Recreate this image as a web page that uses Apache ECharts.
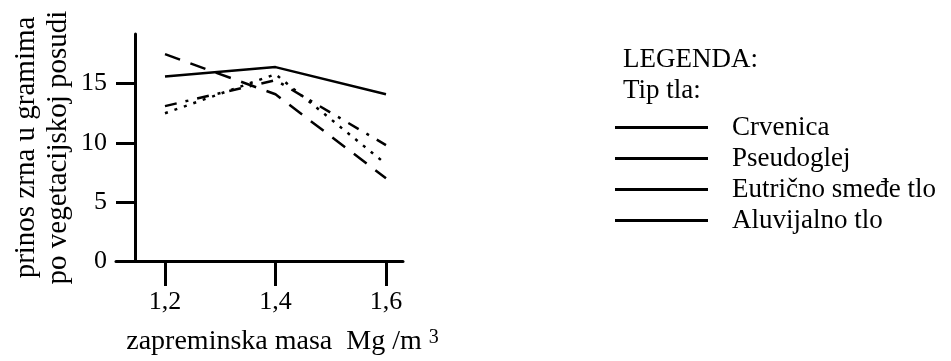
<!DOCTYPE html>
<html>
<head>
<meta charset="utf-8">
<script src="https://cdn.jsdelivr.net/npm/echarts@6/dist/echarts.min.js"></script>
<style>
  html, body { margin: 0; padding: 0; background: #fff; }
  #chart { width: 951px; height: 361px; }
</style>
</head>
<body>
<div id="chart"></div>
<script>
// ---- data ----
const xValues = [1.2, 1.4, 1.6];
const seriesNames = ['Crvenica', 'Pseudoglej', 'Eutrično smeđe tlo', 'Aluvijalno tlo'];
const crvenica = [15.6, 16.4, 14.1];
const pseudoglej = [17.5, 14.1, 7.0];
const eutricno = [13.1, 15.3, 9.8];
const aluvijalno = [12.5, 15.8, 8.2];
const yTicks = [0, 5, 10, 15];
const xTicks = [1.2, 1.4, 1.6];
const yAxisName = 'prinos zrna u gramima\npo vegetacijskoj posudi';
const xAxisName = 'zapreminska masa  Mg /m ';
const xAxisSup = '3';
const legendTitle = 'LEGENDA:';
const legendSubtitle = 'Tip tla:';

const FONT = 'Liberation Serif, Times New Roman, serif';
const INK = '#000';

const seriesValues = [crvenica, pseudoglej, eutricno, aluvijalno];
const dashTypes = ['solid', [16, 11], [12, 9, 3, 9], [3, 7]];

const chart = echarts.init(document.getElementById('chart'), null, { renderer: 'canvas' });

chart.setOption({
  animation: false,
  backgroundColor: '#fff',
  title: [
    { text: legendTitle, left: 623, top: 46, padding: 0,
      textStyle: { fontFamily: FONT, fontSize: 27, fontWeight: 'normal', color: INK, lineHeight: 27 } },
    { text: legendSubtitle, left: 623, top: 77, padding: 0,
      textStyle: { fontFamily: FONT, fontSize: 27, fontWeight: 'normal', color: INK, lineHeight: 27 } }
  ],
  legend: {
    orient: 'vertical',
    left: 615,
    top: 112,
    padding: 0,
    itemGap: 0,
    itemWidth: 93,
    itemHeight: 3,
    icon: 'path://M0,0H100V3H0Z',
    itemStyle: { color: INK, borderWidth: 0 },
    data: seriesNames,
    selectedMode: false,
    textStyle: { fontFamily: FONT, fontSize: 27, color: INK, lineHeight: 24, padding: [0, 0, 7, 19] }
  },
  grid: { left: 116, right: 548, top: 34, bottom: 98, containLabel: false },
  xAxis: {
    type: 'value',
    min: 1.1113,
    max: 1.6308,
    name: '{a|' + xAxisName + '}{s|' + xAxisSup + '}',
    nameLocation: 'middle',
    nameGap: 67,
    nameTextStyle: {
      padding: [0, 0, 0, 46],
      rich: {
        a: { fontFamily: FONT, fontSize: 28, color: INK, lineHeight: 28 },
        s: { fontFamily: FONT, fontSize: 20, color: INK, lineHeight: 28, verticalAlign: 'top', padding: [0, 0, 6, 0] }
      }
    },
    axisLine: { show: true, lineStyle: { color: INK, width: 3 } },
    axisTick: { show: true, customValues: xTicks, length: 25, lineStyle: { color: INK, width: 3 } },
    axisLabel: {
      customValues: xTicks,
      margin: 28,
      fontFamily: FONT, fontSize: 26, color: INK,
      formatter: v => String(v).replace('.', ',')
    },
    splitLine: { show: false }
  },
  yAxis: {
    type: 'value',
    min: 0,
    max: 19.2,
    offset: -19,
    name: yAxisName,
    nameLocation: 'middle',
    nameRotate: 90,
    nameGap: 61,
    nameTextStyle: { fontFamily: FONT, fontSize: 29, color: INK, lineHeight: 32, align: 'center' },
    axisLine: { show: true, lineStyle: { color: INK, width: 3 } },
    axisTick: { show: true, customValues: yTicks, length: 19, lineStyle: { color: INK, width: 3 } },
    axisLabel: { customValues: yTicks, margin: 28, fontFamily: FONT, fontSize: 26, color: INK },
    splitLine: { show: false }
  },
  series: seriesNames.map((name, i) => ({
    name: name,
    type: 'line',
    symbol: 'none',
    color: INK,
    data: xValues.map((x, j) => [x, seriesValues[i][j]]),
    lineStyle: { color: INK, width: 2.5, type: dashTypes[i], cap: 'butt' },
    emphasis: { disabled: true }
  }))
});
</script>
</body>
</html>
